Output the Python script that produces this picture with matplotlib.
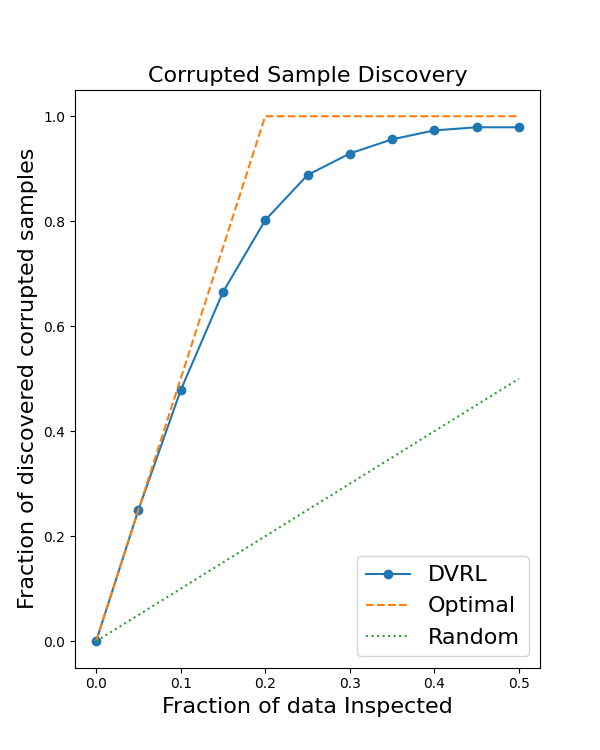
import matplotlib
matplotlib.use('Agg')
import matplotlib.pyplot as plt

# fraction of data inspected
dvrl_x = [0.0, 0.05, 0.1, 0.15, 0.2, 0.25, 0.3, 0.35, 0.4, 0.45, 0.5]
dvrl_y = [0.0, 0.25, 0.478, 0.665, 0.802, 0.888, 0.929, 0.956, 0.973, 0.979, 0.979]

optimal_x = [0.0, 0.2, 0.5]
optimal_y = [0.0, 1.0, 1.0]

random_x = [0.0, 0.5]
random_y = [0.0, 0.5]

fig, ax = plt.subplots(figsize=(6, 7.5), dpi=100)

ax.plot(dvrl_x, dvrl_y, 'o-', label='DVRL')
ax.plot(optimal_x, optimal_y, '--', label='Optimal')
ax.plot(random_x, random_y, ':', label='Random')

ax.set_title('Corrupted Sample Discovery', fontsize=16)
ax.set_xlabel('Fraction of data Inspected', fontsize=16)
ax.set_ylabel('Fraction of discovered corrupted samples', fontsize=16)
ax.legend(fontsize=16, loc='lower right')

fig.savefig('out.png')
